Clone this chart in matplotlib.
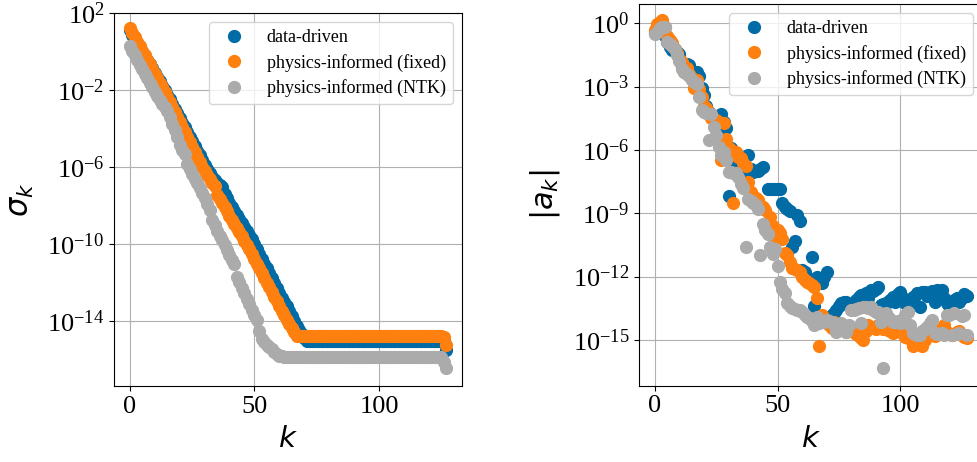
import numpy as np
import matplotlib
matplotlib.use("Agg")
import matplotlib.pyplot as plt
from matplotlib.ticker import FixedLocator, NullLocator

plt.rcParams['font.family'] = 'serif'
plt.rcParams['font.serif'] = ['Liberation Serif', 'DejaVu Serif']

k = np.arange(128)

series_labels = ['data-driven', 'physics-informed (fixed)', 'physics-informed (NTK)']
series_colors = ['#006BA4', '#FF800E', '#ABABAB']

# log10 of the singular values sigma_k
sigma_data_driven_log10 = [
    1.10, 0.88, 0.66, 0.44, 0.22, 0.00, -0.22, -0.44, -0.66, -0.88,
    -1.10, -1.33, -1.55, -1.78, -2.00, -2.24, -2.48, -2.73, -2.97, -3.21,
    -3.45, -3.70, -3.94, -4.18, -4.42, -4.66, -4.91, -5.15, -5.39, -5.63,
    -5.88, -6.10, -6.30, -6.50, -6.68, -6.85, -6.95, -7.05, -7.40, -7.62,
    -7.84, -8.05, -8.26, -8.47, -8.68, -8.89, -9.10, -9.31, -9.52, -9.75,
    -10.00, -10.25, -10.50, -10.76, -11.01, -11.26, -11.51, -11.76, -12.02, -12.27,
    -12.52, -12.77, -12.98, -13.20, -13.45, -13.72, -14.00, -14.22, -14.44, -14.66,
    -14.86, -15.00, -15.00, -15.00, -15.00, -15.00, -15.00, -15.01, -15.01, -15.01,
    -15.01, -15.01, -15.01, -15.01, -15.01, -15.01, -15.01, -15.01, -15.01, -15.01,
    -15.01, -15.01, -15.01, -15.01, -15.01, -15.01, -15.01, -15.02, -15.02, -15.02,
    -15.02, -15.02, -15.02, -15.02, -15.02, -15.02, -15.02, -15.02, -15.02, -15.02,
    -15.02, -15.02, -15.02, -15.02, -15.02, -15.02, -15.02, -15.02, -15.02, -15.02,
    -15.02, -15.02, -15.02, -15.02, -15.02, -15.03, -15.05, -15.49,
]
sigma_fixed_log10 = [
    1.22, 0.98, 0.75, 0.51, 0.27, 0.04, -0.20, -0.44, -0.67, -0.91,
    -1.15, -1.38, -1.62, -1.86, -2.10, -2.36, -2.62, -2.88, -3.14, -3.40,
    -3.66, -3.92, -4.18, -4.44, -4.70, -4.96, -5.22, -5.48, -5.74, -6.00,
    -6.20, -6.40, -6.60, -6.80, -7.00, -7.45, -7.65, -7.87, -8.08, -8.30,
    -8.52, -8.73, -8.95, -9.17, -9.38, -9.60, -9.82, -10.03, -10.27, -10.52,
    -10.76, -11.01, -11.25, -11.50, -11.74, -11.99, -12.23, -12.48, -12.72, -12.97,
    -13.21, -13.46, -13.70, -13.92, -14.14, -14.36, -14.58, -14.76, -14.76, -14.76,
    -14.76, -14.76, -14.76, -14.76, -14.76, -14.76, -14.76, -14.76, -14.76, -14.76,
    -14.76, -14.76, -14.76, -14.76, -14.76, -14.76, -14.76, -14.76, -14.77, -14.77,
    -14.77, -14.77, -14.77, -14.77, -14.77, -14.77, -14.77, -14.77, -14.77, -14.77,
    -14.77, -14.77, -14.77, -14.77, -14.77, -14.77, -14.77, -14.77, -14.77, -14.77,
    -14.77, -14.77, -14.77, -14.77, -14.77, -14.77, -14.77, -14.77, -14.77, -14.77,
    -14.77, -14.77, -14.77, -14.77, -14.78, -14.78, -14.80, -15.23,
]
sigma_ntk_log10 = [
    0.30, 0.05, -0.20, -0.44, -0.68, -0.92, -1.16, -1.40, -1.64, -1.86,
    -2.08, -2.30, -2.50, -2.70, -2.88, -3.10, -3.40, -3.75, -4.06, -4.45,
    -4.85, -5.10, -5.30, -5.85, -6.10, -6.35, -6.60, -6.85, -7.10, -7.35,
    -7.60, -7.90, -8.20, -8.75, -9.00, -9.30, -9.55, -9.80, -10.05, -10.30,
    -10.55, -10.80, -11.05, -11.70, -11.95, -12.25, -12.55, -12.85, -13.10, -13.40,
    -13.70, -13.95, -14.50, -14.90, -15.10, -15.25, -15.35, -15.45, -15.60, -15.70,
    -15.78, -15.82, -15.84, -15.85, -15.85, -15.85, -15.85, -15.85, -15.85, -15.85,
    -15.85, -15.85, -15.85, -15.85, -15.85, -15.85, -15.85, -15.85, -15.85, -15.85,
    -15.85, -15.85, -15.85, -15.85, -15.85, -15.85, -15.85, -15.85, -15.85, -15.85,
    -15.85, -15.85, -15.85, -15.85, -15.85, -15.85, -15.85, -15.85, -15.85, -15.85,
    -15.85, -15.85, -15.85, -15.85, -15.85, -15.85, -15.85, -15.85, -15.85, -15.85,
    -15.85, -15.85, -15.85, -15.85, -15.85, -15.85, -15.85, -15.85, -15.85, -15.85,
    -15.85, -15.85, -15.85, -15.85, -15.85, -15.85, -16.10, -16.45,
]

# log10 of the coefficient magnitudes |a_k|
coef_data_driven_log10 = [
    -0.45, -0.20, -0.10, -0.30, -0.60, -0.90, -1.15, -1.26, -1.30, -1.35,
    -1.45, -2.05, -2.10, -1.95, -1.97, -2.65, -2.30, -2.29, -2.50, -3.05,
    -3.40, -3.90, -4.20, -4.40, -4.50, -4.60, -4.70, -4.30, -4.70, -4.98,
    -8.18, -5.90, -6.30, -6.60, -6.45, -6.90, -7.35, -7.10, -6.24, -6.90,
    -7.03, -7.00, -7.00, -6.90, -6.80, -9.76, -7.87, -7.87, -7.87, -7.87,
    -7.85, -7.87, -8.53, -8.70, -8.80, -8.88, -10.58, -10.30, -9.10, -9.37,
    -11.70, -11.77, -12.00, -12.16, -11.09, -13.38, -12.00, -12.20, -12.30, -12.00,
    -11.80, -13.90, -13.80, -13.74, -13.60, -13.40, -13.27, -13.20, -13.19, -13.30,
    -13.40, -13.50, -13.10, -12.95, -12.88, -12.90, -12.80, -13.00, -12.64, -12.70,
    -12.60, -12.48, -13.35, -13.30, -13.25, -13.19, -13.10, -12.95, -13.19, -12.85,
    -12.72, -13.00, -13.27, -13.40, -13.10, -12.95, -12.90, -12.80, -13.43, -12.72,
    -12.72, -12.90, -12.80, -12.70, -13.19, -12.64, -12.70, -12.64, -13.00, -13.27,
    -13.40, -13.59, -13.10, -13.03, -13.20, -13.00, -12.83, -12.90,
]
coef_fixed_log10 = [
    -0.30, -0.05, 0.05, 0.13, -0.20, -0.60, -0.80, -0.95, -1.20, -1.40,
    -1.70, -1.82, -2.29, -2.10, -2.40, -2.60, -3.08, -2.70, -3.10, -3.50,
    -3.90, -4.00, -4.19, -4.50, -4.55, -4.60, -4.70, -6.48, -4.74, -5.50,
    -5.92, -6.00, -8.53, -6.10, -6.32, -6.40, -6.60, -6.75, -7.50, -8.00,
    -8.20, -8.30, -8.37, -8.60, -8.70, -8.85, -9.40, -9.16, -9.60, -10.24,
    -9.80, -9.95, -10.20, -10.87, -11.00, -11.30, -11.61, -11.65, -11.70, -11.77,
    -12.00, -12.16, -12.25, -12.30, -12.40, -12.50, -13.00, -15.30, -13.80, -14.00,
    -14.10, -14.30, -14.45, -14.14, -14.30, -14.40, -14.45, -14.50, -14.61, -14.50,
    -14.55, -14.61, -14.70, -14.80, -14.90, -15.00, -14.60, -14.30, -14.40, -14.45,
    -14.50, -14.30, -14.40, -14.50, -14.45, -14.55, -14.60, -14.69, -14.55, -14.45,
    -14.50, -14.70, -14.85, -14.90, -14.85, -15.30, -15.20, -14.93, -15.10, -15.30,
    -15.00, -14.80, -14.69, -14.75, -14.80, -14.70, -14.60, -14.45, -14.30, -14.61,
    -14.70, -14.75, -14.70, -14.65, -14.60, -14.75, -14.85, -14.90,
]
coef_ntk_log10 = [
    -0.52, -0.40, -0.25, -0.20, -0.16, -0.87, -1.00, -1.10, -1.23, -1.50,
    -1.80, -2.18, -2.30, -2.40, -2.50, -2.70, -2.80, -2.88, -3.50, -4.10,
    -4.20, -4.25, -5.53, -4.30, -4.90, -5.29, -5.85, -6.24, -6.10, -6.50,
    -7.03, -7.05, -7.08, -7.11, -7.30, -7.60, -7.82, -10.58, -8.34, -8.40,
    -8.50, -8.60, -8.80, -10.98, -9.50, -9.80, -10.00, -10.58, -10.93, -10.70,
    -11.50, -12.24, -12.60, -12.80, -13.27, -13.40, -13.50, -13.55, -13.60, -13.59,
    -13.70, -13.82, -13.90, -13.98, -14.10, -14.30, -13.90, -14.20, -14.10, -14.15,
    -14.06, -14.10, -14.14, -14.30, -14.61, -14.40, -14.20, -14.50, -14.61, -14.30,
    -13.59, -13.60, -13.55, -13.50, -14.22, -13.45, -13.43, -13.50, -13.43, -13.60,
    -13.66, -13.70, -14.14, -16.35, -13.74, -13.90, -14.00, -14.14, -14.14, -14.10,
    -14.20, -14.00, -13.80, -13.66, -14.30, -14.69, -14.70, -14.75, -14.77, -14.60,
    -14.50, -14.40, -14.20, -14.06, -14.69, -14.70, -14.72, -14.69, -14.75, -13.82,
    -13.80, -14.77, -13.74, -14.70, -14.69, -13.85, -13.82, -14.75,
]

sigma_series = [sigma_data_driven_log10, sigma_fixed_log10, sigma_ntk_log10]
coef_series = [coef_data_driven_log10, coef_fixed_log10, coef_ntk_log10]

fig = plt.figure(figsize=(9.78, 4.62), dpi=100)
ax1 = fig.add_axes([0.1166, 0.1645, 0.3558, 0.8074])
ax2 = fig.add_axes([0.6537, 0.1652, 0.3505, 0.8262])

for ax, group in ((ax1, sigma_series), (ax2, coef_series)):
    for vals, color, label in zip(group, series_colors, series_labels):
        ax.plot(k, np.power(10.0, np.asarray(vals)), 'o', ms=8.5,
                color=color, label=label, linestyle='none')
    ax.set_yscale('log')
    ax.set_xlim(-6.35, 133.35)
    ax.set_xticks([0, 50, 100])
    ax.grid(True, color='#b0b0b0', linewidth=0.8)
    ax.set_axisbelow(True)
    ax.tick_params(labelsize=19)
    ax.yaxis.set_minor_locator(NullLocator())
    ax.set_xlabel('$k$', fontsize=21, labelpad=7)
    ax.legend(loc='upper right', fontsize=13, labelspacing=0.42)

ax1.set_ylim(10 ** -17.36, 10 ** 2.0)
ax1.yaxis.set_major_locator(FixedLocator([1e2, 1e-2, 1e-6, 1e-10, 1e-14]))
ax1.set_ylabel(r'$\sigma_k$', fontsize=22, labelpad=8)

ax2.set_ylim(10 ** -17.17, 10 ** 0.91)
ax2.yaxis.set_major_locator(FixedLocator([1e0, 1e-3, 1e-6, 1e-9, 1e-12, 1e-15]))
ax2.set_ylabel(r'$|a_k|$', fontsize=22, labelpad=8)

fig.savefig('out.png', dpi=100)
